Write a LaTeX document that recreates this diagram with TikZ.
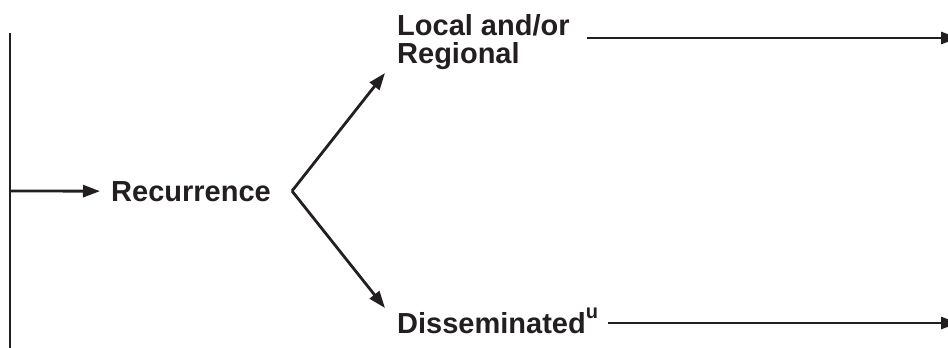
\documentclass[tikz,border=0pt]{standalone}
\usepackage{fontspec}
\setmainfont{Liberation Sans}
\usetikzlibrary{arrows.meta}
\definecolor{ink}{HTML}{231F20}
\begin{document}
\begin{tikzpicture}[x=1pt,y=1pt,
  line/.style={draw=ink,line width=2.8pt},
  arr/.style={line,-{Triangle[length=17pt,width=12pt]}},
  lbl/.style={text=ink,font=\fontsize{29}{28}\selectfont\bfseries,inner sep=0pt,align=left}]
\useasboundingbox (0,0) rectangle (948,-348);
% nodes
\coordinate (top) at (10,-33);
\coordinate (bot) at (10,-350);
\coordinate (mid) at (10,-191);
\node[lbl,anchor=base west] (rec) at (111,-201) {Recurrence};
\coordinate (v) at (292,-191);
\node[lbl,anchor=base west] (loc) at (397,-63) {Local and/or\\Regional};
\node[lbl,anchor=base west] (dis) at (397,-333) {Disseminated\raisebox{0.5em}{\fontsize{20}{20}\selectfont\bfseries u}};
\coordinate (tipUp) at (385,-73);
\coordinate (tipDn) at (385,-308);
\coordinate (e1) at (958,-38);
\coordinate (s1) at (587,-38);
\coordinate (e2) at (958,-323);
\coordinate (s2) at (608,-323);
% connectors
\draw[line] (top) -- (bot);
\draw[arr] (mid) -- (rec.west -| 100,0) ;
\draw[arr] (v) -- (tipUp);
\draw[arr] (v) -- (tipDn);
\draw[arr] (s1) -- (e1);
\draw[arr] (s2) -- (e2);
\end{tikzpicture}
\end{document}
